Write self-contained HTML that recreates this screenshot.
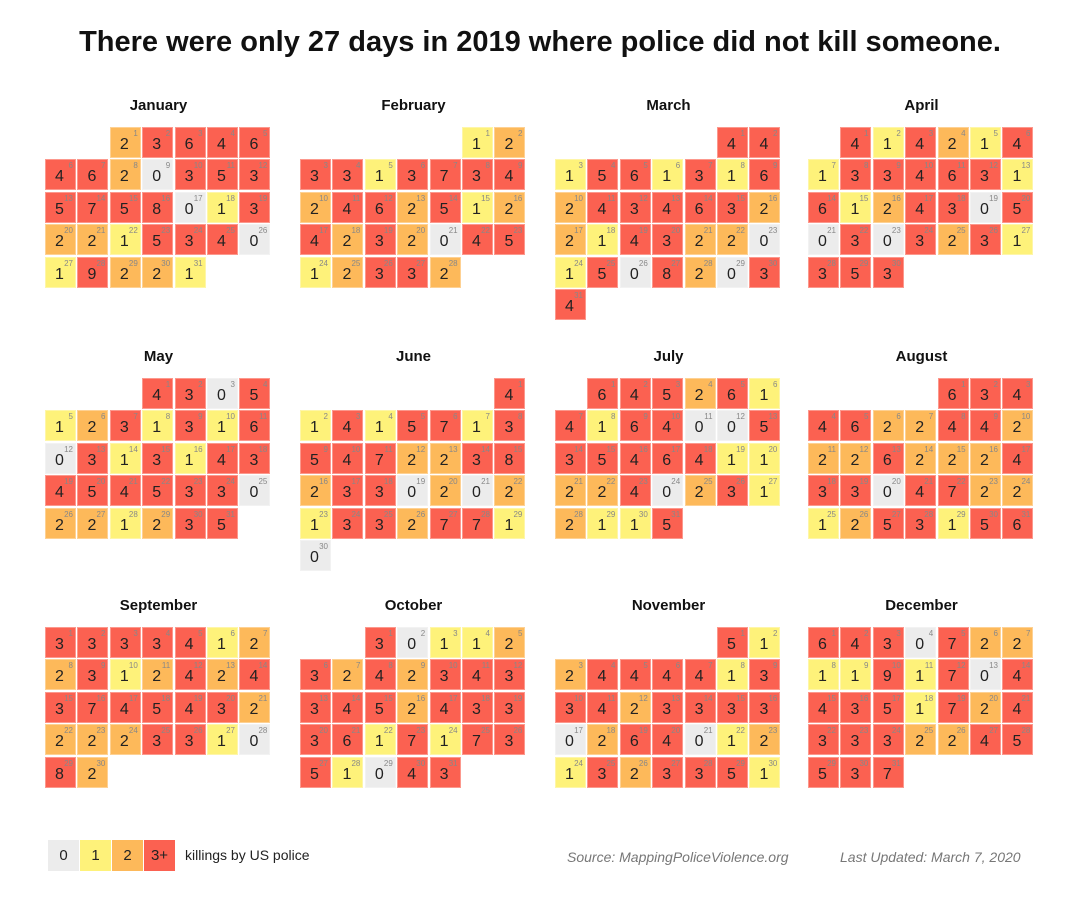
<!DOCTYPE html>
<html><head><meta charset="utf-8">
<style>
body{margin:0;width:1080px;height:899px;background:#fff;font-family:"Liberation Sans",sans-serif;overflow:hidden;position:relative}
h1{position:absolute;left:0;width:1080px;top:26px;margin:0;text-align:center;font-size:29px;font-weight:bold;color:#111}
.mt{position:absolute;width:227px;text-align:center;font-weight:bold;font-size:15px;color:#111}
.c{position:absolute;width:31px;height:31px;box-sizing:border-box;border:1px solid rgba(255,255,255,.35)}
.v{position:absolute;left:0;width:27px;text-align:center;top:8px;font-size:16px;color:#222}
.d{position:absolute;right:2px;top:1px;font-size:8px;color:#888}
.lg{position:absolute;top:840px;height:31px;font-size:15px;text-align:center;line-height:31px;color:#222}
.ft{position:absolute;top:849px;font-size:14px;font-style:italic;color:#777}
</style></head><body>
<h1>There were only 27 days in 2019 where police did not kill someone.</h1>
<div id="cal"></div>
<div class="lg" style="left:48px;width:31px;background:#ececec">0</div>
<div class="lg" style="left:80px;width:31px;background:#fef27a">1</div>
<div class="lg" style="left:112px;width:31px;background:#fdb95a">2</div>
<div class="lg" style="left:144px;width:31px;background:#fb6151">3+</div>
<div class="lg" style="left:185px;font-size:14px">killings by US police</div>
<div class="ft" style="left:567px">Source: MappingPoliceViolence.org</div>
<div class="ft" style="left:840px">Last Updated: March 7, 2020</div>
<script>
const months=["January","February","March","April","May","June","July","August","September","October","November","December"];
const jan=[2,3,6,4,6,4,6,2,0,3,5,3,5,7,5,8,0,1,3,2,2,1,5,3,4,0,1,9,2,2,1];
const feb=[1,2,3,3,1,3,7,3,4,2,4,6,2,5,1,2,4,2,3,2,0,4,5,1,2,3,3,2];
const mar=[4,4,1,5,6,1,3,1,6,2,4,3,4,6,3,2,2,1,4,3,2,2,0,1,5,0,8,2,0,3,4];
const apr=[4,1,4,2,1,4,1,3,3,4,6,3,1,6,1,2,4,3,0,5,0,3,0,3,2,3,1,3,5,3];
const may=[4,3,0,5,1,2,3,1,3,1,6,0,3,1,3,1,4,3,4,5,4,5,3,3,0,2,2,1,2,3,5];
const jun=[4,1,4,1,5,7,1,3,5,4,7,2,2,3,8,2,3,3,0,2,0,2,1,3,3,2,7,7,1,0];
const jul=[6,4,5,2,6,1,4,1,6,4,0,0,5,3,5,4,6,4,1,1,2,2,4,0,2,3,1,2,1,1,5];
const aug=[6,3,4,4,6,2,2,4,4,2,2,2,6,2,2,2,4,3,3,0,4,7,2,2,1,2,5,3,1,5,6];
const sep=[3,3,3,3,4,1,2,2,3,1,2,4,2,4,3,7,4,5,4,3,2,2,2,2,3,3,1,0,8,2];
const oct=[3,0,1,1,2,3,2,4,2,3,4,3,3,4,5,2,4,3,3,3,6,1,7,1,7,3,5,1,0,4,3];
const nov=[5,1,2,4,4,4,4,1,3,3,4,2,3,3,3,3,0,2,6,4,0,1,2,1,3,2,3,3,5,1];
const dec=[6,4,3,0,7,2,2,1,1,9,1,7,0,4,4,3,5,1,7,2,4,3,3,3,2,2,4,5,5,3,7];
const values=[jan,feb,mar,apr,may,jun,jul,aug,sep,oct,nov,dec];
const year=2019;
const colX=[45,300,555,808], rowY=[127,378,627], pitch=32.4;
function color(v){return v===0?"#ececec":v===1?"#fef27a":v===2?"#fdb95a":"#fb6151";}
const cal=document.getElementById('cal');
values.forEach((arr,m)=>{
  const ox=colX[m%4], oy=rowY[Math.floor(m/4)];
  const t=document.createElement('div');
  t.className='mt';
  
  
  t.style.left=ox+'px';t.style.top=(oy-30)+'px';t.textContent=months[m];
  cal.appendChild(t);
  const start=new Date(year,m,1).getDay();
  arr.forEach((v,i)=>{
    const p=start+i, col=p%7, row=Math.floor(p/7);
    const c=document.createElement('div');
    c.className='c';
    
    
    c.style.left=(ox+col*pitch)+'px';c.style.top=(oy+row*pitch)+'px';
    c.style.background=color(v);
    c.innerHTML='<span class="v">'+v+'</span><span class="d">'+(i+1)+'</span>';
    cal.appendChild(c);
  });
});
</script>
</body></html>
